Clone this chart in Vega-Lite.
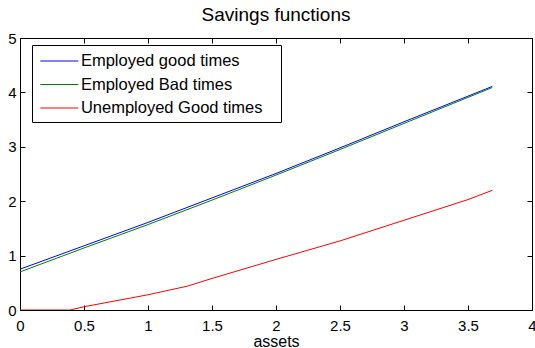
{
  "$schema": "https://vega.github.io/schema/vega-lite/v6.json",
  "width": 512,
  "height": 272,
  "autosize": {"type": "none"},
  "padding": {"left": 20, "top": 38, "right": 3, "bottom": 38},
  "background": "white",
  "title": {
    "text": "Savings functions",
    "font": "Liberation Sans",
    "fontSize": 19,
    "fontWeight": "normal",
    "color": "black",
    "anchor": "middle",
    "offset": 6
  },
  "config": {
    "view": {"stroke": "black", "strokeWidth": 1},
    "axis": {
      "labelFont": "Liberation Sans",
      "labelFontSize": 15,
      "labelColor": "black",
      "titleFont": "Liberation Sans",
      "titleFontSize": 16,
      "titleFontWeight": "normal",
      "titleColor": "black",
      "domainColor": "black",
      "tickColor": "black",
      "tickSize": -5,
      "grid": false
    },
    "line": {"strokeWidth": 1}
  },
  "data": {
    "values": [
      {"series": "Employed good times", "a": 0, "s": 0.75},
      {"series": "Employed good times", "a": 0.5, "s": 1.18},
      {"series": "Employed good times", "a": 1.0, "s": 1.61},
      {"series": "Employed good times", "a": 1.5, "s": 2.06},
      {"series": "Employed good times", "a": 2.0, "s": 2.51},
      {"series": "Employed good times", "a": 2.5, "s": 2.98},
      {"series": "Employed good times", "a": 3.0, "s": 3.46},
      {"series": "Employed good times", "a": 3.69, "s": 4.11},
      {"series": "Employed Bad times", "a": 0, "s": 0.70},
      {"series": "Employed Bad times", "a": 0.5, "s": 1.14},
      {"series": "Employed Bad times", "a": 1.0, "s": 1.57},
      {"series": "Employed Bad times", "a": 1.5, "s": 2.02},
      {"series": "Employed Bad times", "a": 2.0, "s": 2.48},
      {"series": "Employed Bad times", "a": 2.5, "s": 2.95},
      {"series": "Employed Bad times", "a": 3.0, "s": 3.43},
      {"series": "Employed Bad times", "a": 3.69, "s": 4.09},
      {"series": "Unemployed Good times", "a": 0, "s": 0},
      {"series": "Unemployed Good times", "a": 0.39, "s": 0},
      {"series": "Unemployed Good times", "a": 0.5, "s": 0.06},
      {"series": "Unemployed Good times", "a": 1.0, "s": 0.28},
      {"series": "Unemployed Good times", "a": 1.31, "s": 0.44},
      {"series": "Unemployed Good times", "a": 1.5, "s": 0.58},
      {"series": "Unemployed Good times", "a": 2.0, "s": 0.93},
      {"series": "Unemployed Good times", "a": 2.5, "s": 1.27},
      {"series": "Unemployed Good times", "a": 3.0, "s": 1.65},
      {"series": "Unemployed Good times", "a": 3.5, "s": 2.03},
      {"series": "Unemployed Good times", "a": 3.69, "s": 2.20}
    ]
  },
  "layer": [
    {
      "mark": {"type": "line", "strokeWidth": 1, "clip": true},
      "encoding": {
        "x": {
          "field": "a",
          "type": "quantitative",
          "scale": {"domain": [0, 4], "nice": false, "zero": false},
          "axis": {"orient": "bottom", "title": "assets", "format": "~g", "values": [0, 0.5, 1, 1.5, 2, 2.5, 3, 3.5, 4], "labelPadding": 13, "titlePadding": 0, "labelFlush": false, "labelOverlap": false}
        },
        "y": {
          "field": "s",
          "type": "quantitative",
          "scale": {"domain": [0, 5], "nice": false, "zero": false},
          "axis": {"orient": "left", "title": null, "format": "~g", "values": [0, 1, 2, 3, 4, 5], "labelPadding": 9, "labelFlush": false, "labelOverlap": false}
        },
        "color": {
          "field": "series",
          "type": "nominal",
          "scale": {
            "domain": ["Employed good times", "Employed Bad times", "Unemployed Good times"],
            "range": ["#0000ff", "#008000", "#ff0000"]
          },
          "legend": {
            "title": " ",
            "titleOrient": "right",
            "titleFontSize": 1,
            "titlePadding": 14,
            "orient": "none",
            "legendX": 12,
            "legendY": 7,
            "symbolType": "M-1.86,0H1.86",
            "symbolSize": 416,
            "symbolOffset": 11.3,
            "symbolStrokeWidth": 1,
            "labelFont": "Liberation Sans",
            "labelFontSize": 16.5,
            "labelColor": "black",
            "labelOffset": 10.6,
            "labelLimit": 300,
            "strokeColor": "black",
            "fillColor": "white",
            "padding": 5,
            "rowPadding": 3.5
          }
        }
      }
    },
    {
      "mark": {"type": "line", "opacity": 0},
      "encoding": {
        "x": {
          "field": "a",
          "type": "quantitative",
          "scale": {"domain": [0, 4], "nice": false, "zero": false},
          "axis": {"orient": "top", "title": null, "labels": false, "values": [0, 0.5, 1, 1.5, 2, 2.5, 3, 3.5, 4]}
        },
        "y": {
          "field": "s",
          "type": "quantitative",
          "scale": {"domain": [0, 5], "nice": false, "zero": false},
          "axis": {"orient": "right", "title": null, "labels": false, "values": [0, 1, 2, 3, 4, 5]}
        },
        "detail": {"field": "series", "type": "nominal"}
      }
    }
  ],
  "resolve": {"axis": {"x": "independent", "y": "independent"}}
}
